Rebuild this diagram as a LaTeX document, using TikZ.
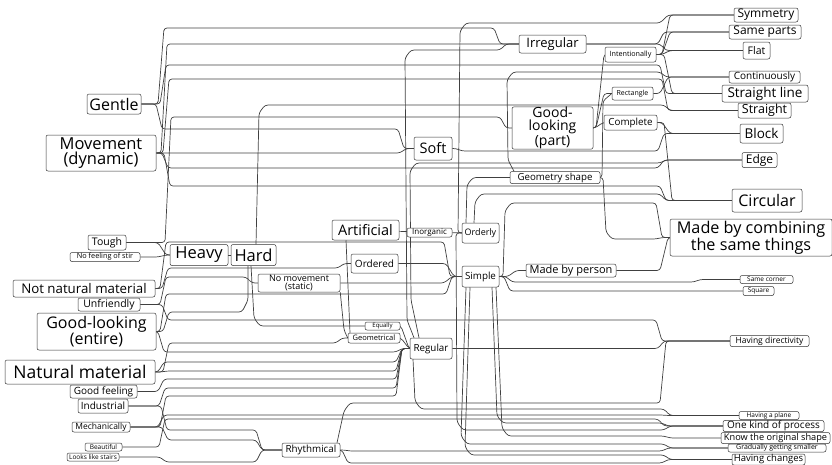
\documentclass[tikz,border=0pt]{standalone}
\usepackage{fontspec}
\setmainfont{Open Sans}
\usetikzlibrary{backgrounds}

\tikzset{
  box/.style={draw=black!80, fill=white, rounded corners=2pt, inner sep=0.5pt, align=center, line width=0.5pt},
  wire/.style={draw=black!75, line width=0.7pt, rounded corners=3pt},
}
\newcommand{\fs}[2]{\fontsize{#1}{#2}\selectfont}
% lane wire: source, first bend x, lane y, last bend x, target
\newcommand{\wire}[5]{\draw[wire] (#1) -- (#2,0 |- #1) -- (#2+6,#3) -- (#4-6,#3) -- (#4,0 |- #5) -- (#5);}
% short wire: source, bend x, target
\newcommand{\shortwire}[3]{\draw[wire] (#1) -- (#2,0 |- #1) -- (#2+8,0 |- #3) -- (#3);}

\begin{document}
\begin{tikzpicture}[x=1pt, y=-1pt]
  \useasboundingbox (0,0) rectangle (832,464);

  % Left column
  \node[box, minimum width=54pt, minimum height=20pt, font=\fs{16}{16}] (gentle) at (114,104) {Gentle};
  \node[box, minimum width=110pt, minimum height=36pt, font=\fs{16.5}{15}] (movement) at (101,153) {Movement\\(dynamic)};
  \node[box, minimum width=38pt, minimum height=15pt, font=\fs{10.5}{11}] (tough) at (107,242.5) {Tough};
  \node[box, minimum width=70pt, minimum height=9pt, font=\fs{7.3}{7}] (nostir) at (105,257) {No feeling of stir};
  \node[box, minimum width=142pt, minimum height=17pt, font=\fs{13.3}{13}] (notnat) at (84,288.5) {Not natural material};
  \node[box, minimum width=62pt, minimum height=13pt, font=\fs{10.5}{10}] (unfriendly) at (109,304.5) {Unfriendly};
  \node[box, minimum width=119pt, minimum height=37pt, font=\fs{16}{15}] (goodent) at (96.5,331.5) {Good-looking\\(entire)};
  \node[box, minimum width=150pt, minimum height=24pt, font=\fs{17.5}{17}] (natural) at (80,372) {Natural material};
  \node[box, minimum width=67pt, minimum height=13pt, font=\fs{10}{10}] (goodfeel) at (103.5,391.5) {Good feeling};
  \node[box, minimum width=50pt, minimum height=14pt, font=\fs{10}{10}] (industrial) at (103,406) {Industrial};
  \node[box, minimum width=58pt, minimum height=10pt, font=\fs{8.5}{8}] (mechanical) at (101,427) {Mechanically};
  \node[box, minimum width=37pt, minimum height=8pt, font=\fs{6.5}{6}] (beautiful) at (103.5,447) {Beautiful};
  \node[box, minimum width=52pt, minimum height=8pt, font=\fs{6.5}{6}] (stairs) at (93,457) {Looks like stairs};

  % Middle
  \node[box, minimum width=58pt, minimum height=21pt, font=\fs{16.5}{16}] (heavy) at (199,255) {Heavy};
  \node[box, minimum width=45pt, minimum height=21pt, font=\fs{16.5}{16}] (hard) at (253.5,255) {Hard};
  \node[box, minimum width=82pt, minimum height=18pt, font=\fs{9}{8}] (nomove) at (299,283) {No movement\\(static)};
  \node[box, minimum width=67pt, minimum height=20pt, font=\fs{14.5}{14}] (artificial) at (365.5,230) {Artificial};
  \node[box, minimum width=47pt, minimum height=19pt, font=\fs{10}{10}] (ordered) at (374.5,263.5) {Ordered};
  \node[box, minimum width=45pt, minimum height=9pt, font=\fs{8}{8}] (inorganic) at (429.5,232.5) {Inorganic};
  \node[box, minimum width=37pt, minimum height=20pt, font=\fs{9}{9}] (orderly) at (480.5,233) {Orderly};
  \node[box, minimum width=37pt, minimum height=21pt, font=\fs{9.8}{9}] (simple) at (480.5,276.5) {Simple};
  \node[box, minimum width=90pt, minimum height=13pt, font=\fs{11}{11}] (madeby) at (571,270.5) {Made by person};
  \node[box, minimum width=90pt, minimum height=12pt, font=\fs{9.7}{9}] (geoshape) at (555,177.5) {Geometry shape};
  \node[box, minimum width=38pt, minimum height=23pt, font=\fs{14.5}{14}] (soft) at (433,148.5) {Soft};
  \node[box, minimum width=67pt, minimum height=18pt, font=\fs{13}{13}] (irregular) at (552.5,44) {Irregular};
  \node[box, minimum width=81pt, minimum height=40pt, font=\fs{14}{13}] (goodpart) at (552.5,128) {Good-\\looking\\(part)};
  \node[box, minimum width=51pt, minimum height=15pt, font=\fs{7.2}{7}] (intent) at (630.5,54.5) {Intentionally};
  \node[box, minimum width=41pt, minimum height=13pt, font=\fs{7}{7}] (rect) at (632.5,93.5) {Rectangle};
  \node[box, minimum width=53pt, minimum height=15pt, font=\fs{9.8}{9}] (complete) at (630.5,122.5) {Complete};
  \node[box, minimum width=35pt, minimum height=8pt, font=\fs{6}{6}] (equally) at (382.5,326) {Equally};
  \node[box, minimum width=52pt, minimum height=10pt, font=\fs{7.5}{7}] (geometrical) at (374,338) {Geometrical};
  \node[box, minimum width=42pt, minimum height=21pt, font=\fs{9.8}{9}] (regular) at (431,348.5) {Regular};
  \node[box, minimum width=58pt, minimum height=14pt, font=\fs{9.8}{9}] (rhythm) at (311,450) {Rhythmical};

  % Right column
  \node[box, minimum width=64pt, minimum height=14pt, font=\fs{12}{12}] (symmetry) at (766,15) {Symmetry};
  \node[box, minimum width=72pt, minimum height=14pt, font=\fs{12}{12}] (sameparts) at (765,32) {Same parts};
  \node[box, minimum width=27pt, minimum height=17pt, font=\fs{10.5}{10}] (flat) at (756.5,50.5) {Flat};
  \node[box, minimum width=71pt, minimum height=12pt, font=\fs{10}{10}] (continuously) at (764.5,77) {Continuously};
  \node[box, minimum width=86pt, minimum height=17pt, font=\fs{13.5}{13}] (strline) at (765,93.5) {Straight line};
  \node[box, minimum width=53pt, minimum height=15pt, font=\fs{12.5}{12}] (straight) at (764.5,110.5) {Straight};
  \node[box, minimum width=43pt, minimum height=19pt, font=\fs{13.5}{13}] (block) at (761.5,133.5) {Block};
  \node[box, minimum width=35pt, minimum height=15pt, font=\fs{12}{12}] (edge) at (759.5,160) {Edge};
  \node[box, minimum width=70pt, minimum height=23pt, font=\fs{16}{16}] (circular) at (767,200.5) {Circular};
  \node[box, minimum width=162pt, minimum height=37pt, font=\fs{16.2}{15}] (combining) at (751,237.5) {Made by combining\\the same things};
  \node[box, minimum width=53pt, minimum height=8pt, font=\fs{6.5}{6}] (samecorner) at (766.5,279.5) {Same corner};
  \node[box, minimum width=31pt, minimum height=9pt, font=\fs{6.5}{6}] (square) at (758.5,291) {Square};
  \node[box, minimum width=79pt, minimum height=11pt, font=\fs{8.5}{8}] (directivity) at (769.5,341) {Having directivity};
  \node[box, minimum width=60pt, minimum height=8pt, font=\fs{6.5}{6}] (plane) at (769,415.5) {Having a plane};
  \node[box, minimum width=101pt, minimum height=11pt, font=\fs{10}{10}] (onekind) at (773.5,426) {One kind of process};
  \node[box, minimum width=109pt, minimum height=11pt, font=\fs{9.2}{9}] (knowshape) at (775.5,438) {Know the original shape};
  \node[box, minimum width=98pt, minimum height=8pt, font=\fs{7}{7}] (gradually) at (777,448) {Gradually getting smaller};
  \node[box, minimum width=73pt, minimum height=11pt, font=\fs{9.5}{9}] (changes) at (768.5,459.5) {Having changes};

  \begin{pgfonlayer}{background}
    % Left bundle
    \wire{gentle.east}{158}{28}{500}{irregular.west}
    \wire{movement.east}{161}{44}{502}{irregular.west}
    \wire{gentle.east}{160}{65}{666}{strline.west}
    \wire{movement.east}{163}{79}{668}{straight.west}
    \wire{tough.east}{165}{117}{506}{goodpart.west}
    \wire{gentle.east}{156}{129}{404}{soft.west}
    \wire{movement.east}{160}{153}{406}{soft.west}
    \wire{movement.east}{162}{168}{664}{edge.west}
    \wire{movement.east}{164}{186}{666}{circular.west}
    \shortwire{tough.east}{158}{heavy.west}
    \shortwire{nostir.east}{158}{heavy.west}
    \draw[wire] (heavy) -- (hard);
    \wire{notnat.east}{160}{242}{450}{simple.west}
    \wire{notnat.east}{162}{268}{344}{ordered.west}
    \wire{unfriendly.east}{160}{277}{252}{nomove.west}
    \wire{goodent.east}{160}{294}{452}{simple.west}
    \draw[wire] (goodent.east) -- (163,0 |- goodent.east) -- (169,312) -- (242,312) -- (248,300) -- (248,0 |- hard.south);
    \wire{unfriendly.east}{162}{320}{662}{directivity.west}
    \wire{natural.east}{163}{343}{342}{geometrical.west}
    \wire{goodent.east}{158}{352}{402}{regular.west}
    \wire{natural.east}{158}{362}{402}{regular.west}
    \wire{natural.east}{161}{371}{402}{regular.west}
    \wire{goodfeel.east}{158}{379}{402}{regular.west}
    \wire{industrial.east}{159}{388}{402}{regular.west}
    \wire{mechanical.east}{160}{396}{402}{regular.west}
    \wire{mechanical.east}{158}{415}{668}{plane.west}
    \wire{beautiful.east}{159}{419}{664}{onekind.west}
    \wire{industrial.east}{161}{430}{262}{rhythm.west}
    \wire{mechanical.east}{162}{440}{262}{rhythm.west}
    \wire{stairs.east}{160}{462}{262}{rhythm.west}

    % Middle
    \draw[wire] (256,0 |- hard.north) -- (259,113) -- (265,105) -- (664,105) -- (670,0 |- straight.west) -- (straight.west);
    \draw[wire] (251,0 |- hard.south) -- (254,318) -- (260,326) -- (equally.west);
    \draw[wire] (nomove.south east) -- (344,330) -- (geometrical.west);
    \draw[wire] (346,0 |- artificial.south) -- (350,0 |- geometrical.north);
    \draw[wire] (artificial) -- (inorganic);
    \draw[wire] (inorganic) -- (orderly);
    \shortwire{ordered.east}{446}{simple.west}
    \shortwire{nomove.east}{444}{simple.west}
    \shortwire{equally.east}{401}{regular.west}
    \shortwire{geometrical.east}{401}{regular.west}

    % Regular
    \wire{regular.east}{456}{348.5}{664}{directivity.west}
    \draw[wire] (414,0 |- regular.north) -- (407,320) -- (405,58) -- (411,50) -- (500,50) -- (506,0 |- irregular.west) -- (irregular.west);
    \draw[wire] (419,0 |- regular.north) -- (411,300) -- (410,171) -- (416,163) -- (660,163) -- (666,0 |- edge.west) -- (edge.west);
    \draw[wire] (413,0 |- regular.south) -- (415,401) -- (421,409) -- (664,409) -- (670,0 |- plane.west) -- (plane.west);

    % Rhythmical
    \draw[wire] (337,0 |- rhythm.north) -- (344,411) -- (350,403) -- (660,403) -- (666,0 |- directivity.west) -- (directivity.west);
    \wire{rhythm.east}{344}{451}{668}{gradually.west}
    \wire{rhythm.east}{342}{463}{668}{changes.west}

    % Orderly and Simple
    \draw[wire] (orderly.west) -- (458,0 |- orderly.west) -- (460,31) -- (466,23) -- (660,23) -- (668,0 |- symmetry.west) -- (symmetry.west);
    \draw[wire] (466,0 |- orderly.north) -- (467,185) -- (473,177.5) -- (geoshape.west);
    \draw[wire] (474,0 |- orderly.north) -- (475,202) -- (481,194) -- (660,194) -- (666,0 |- circular.west) -- (circular.west);
    \draw[wire] (simple.east) -- (503,0 |- simple.east) -- (505,211) -- (511,203) -- (656,203) -- (662,0 |- combining.west) -- (combining.west);
    \shortwire{simple.east}{508}{madeby.west}
    \wire{simple.east}{506}{282}{700}{samecorner.west}
    \wire{simple.east}{504}{291}{704}{square.west}
    \draw[wire] (orderly.west) -- (456,0 |- orderly.west) -- (457,422) -- (463,430) -- (664,430) -- (670,0 |- onekind.west) -- (onekind.west);
    \draw[wire] (466,0 |- simple.south) -- (461,436) -- (467,444) -- (664,444) -- (670,0 |- gradually.west) -- (gradually.west);
    \draw[wire] (470,0 |- simple.south) -- (465,447) -- (471,455) -- (664,455) -- (670,0 |- changes.west) -- (changes.west);
    \draw[wire] (496,0 |- simple.south) -- (502,428) -- (508,436) -- (664,436) -- (670,0 |- knowshape.west) -- (knowshape.west);
    \draw[wire] (492,0 |- simple.south) -- (497,416) -- (503,423) -- (662,423) -- (668,0 |- onekind.west) -- (onekind.west);

    % Geometry shape and Good-looking (part)
    \draw[wire] (514,0 |- geoshape.north) -- (508,160) -- (507,80) -- (513,72) -- (660,72) -- (666,0 |- continuously.west) -- (continuously.west);
    \draw[wire] (geoshape.east) -- (603,0 |- geoshape.east) -- (606,232) -- (612,239) -- (656,239) -- (662,0 |- combining.west) -- (combining.west);
    \draw[wire] (geoshape.east) -- (602,0 |- geoshape.east) -- (603,101) -- (rect.west);
    \shortwire{goodpart.east}{596}{intent.west}
    \shortwire{goodpart.east}{596}{rect.west}
    \shortwire{goodpart.east}{595}{complete.west}

    % Right fans
    \shortwire{rect.east}{660}{continuously.west}
    \shortwire{complete.east}{662}{block.west}
    \shortwire{complete.east}{664}{circular.west}
    \shortwire{intent.east}{662}{symmetry.west}
    \shortwire{intent.east}{662}{sameparts.west}
    \shortwire{intent.east}{662}{flat.west}
    \shortwire{intent.east}{664}{strline.west}
    \wire{irregular.east}{592}{44}{664}{sameparts.west}
    \wire{irregular.east}{592}{44}{666}{flat.west}
    \wire{soft.east}{456}{151}{664}{block.west}
    \shortwire{madeby.east}{660}{combining.west}
  \end{pgfonlayer}
\end{tikzpicture}
\end{document}
